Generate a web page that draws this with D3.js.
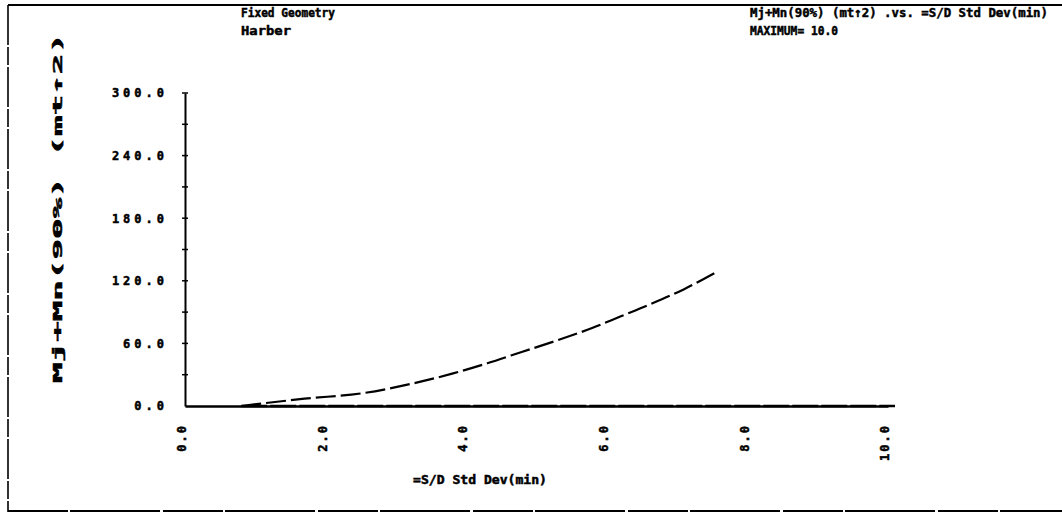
<!DOCTYPE html>
<html>
<head>
<meta charset="utf-8">
<script src="https://cdn.jsdelivr.net/npm/d3@7"></script>
<style>
  body { margin: 0; background: #fff; }
  text { font-family: "DejaVu Sans Mono", monospace; font-weight: bold; fill: #000; stroke: #000; stroke-width: 0.5; }
</style>
</head>
<body>
<div id="chart"></div>
<script>
// values
var stdDev = [0.8, 1.7, 2.55, 3.2, 3.8, 4.3, 4.8, 5.3, 5.8, 6.2, 6.6, 7.1, 7.55]
var mjMn   = [0, 7, 12.5, 21, 31, 41, 52, 63, 75, 86, 97, 112, 128]
var zeroX  = [0.8, 10.1]
var yTicks = [0, 60, 120, 180, 240, 300]
var xTicks = [0, 2, 4, 6, 8, 10]

var svg = d3.select("#chart").append("svg")
  .attr("width", 1062)
  .attr("height", 527)

// frame of the plot page
svg.append("line").attr("x1", 8).attr("x2", 1062).attr("y1", 5).attr("y2", 5)
  .attr("stroke", "#000").attr("stroke-width", 2.2)
svg.append("line").attr("x1", 8).attr("x2", 8).attr("y1", 5).attr("y2", 512)
  .attr("stroke", "#000").attr("stroke-width", 1.6).attr("stroke-dasharray", "40 2 18 2")
svg.append("line").attr("x1", 8).attr("x2", 1062).attr("y1", 511).attr("y2", 511)
  .attr("stroke", "#000").attr("stroke-width", 2).attr("stroke-dasharray", "60 2 90 3")

var x = d3.scaleLinear().domain([0, 10]).range([185, 888])
var y = d3.scaleLinear().domain([0, 300]).range([406, 93])

// header texts
function label(txt, px, py, len) {
  svg.append("text").attr("x", px).attr("y", py)
    .attr("font-size", 13)
    .attr("textLength", len).attr("lengthAdjust", "spacingAndGlyphs")
    .text(txt)
}
label("Fixed Geometry", 241, 17, 94)
label("Harber", 241, 35, 50)
label("Mj+Mn(90%) (mt\u21912) .vs. =S/D Std Dev(min)", 750, 17, 298)
label("MAXIMUM=  10.0", 750, 35, 88)

// y axis
var yAxis = svg.append("g")
  .attr("transform", "translate(185,0)")
  .call(d3.axisLeft(y).tickValues(yTicks).tickSize(0).tickPadding(17)
    .tickFormat(function(d){ return d3.format(".1f")(d) }))
yAxis.select(".domain").attr("stroke-width", 2)
yAxis.selectAll("text")
  .attr("font-size", 12)
  .attr("font-family", "DejaVu Sans Mono")
  .attr("font-weight", "bold")
  .attr("letter-spacing", 4)

// small crossing ticks on the y axis every 30
svg.selectAll(".ytick").data(d3.range(30, 301, 30)).enter()
  .append("line")
  .attr("x1", 182).attr("x2", 188)
  .attr("y1", function(d){ return y(d) }).attr("y2", function(d){ return y(d) })
  .attr("stroke", "#000").attr("stroke-width", 1.5)

// x axis
var xAxis = svg.append("g")
  .attr("transform", "translate(0,406)")
  .call(d3.axisBottom(x).tickValues(xTicks).tickSize(0).tickFormat(""))
xAxis.select(".domain").attr("stroke-width", 2.4)

svg.selectAll(".xlab").data(xTicks).enter()
  .append("text")
  .attr("class", "xlab")
  .attr("transform", function(d){ return "translate(" + (x(d) - 3) + ",424) rotate(-90)" })
  .attr("text-anchor", "end")
  .attr("dy", "0.35em")
  .attr("font-size", 12)
  .attr("letter-spacing", 2)
  .text(function(d){ return d3.format(".1f")(d) })

// axis titles
svg.append("text")
  .attr("transform", "translate(57,208) rotate(-90)")
  .attr("text-anchor", "middle")
  .attr("dy", "0.35em")
  .attr("font-size", 13)
  .attr("textLength", 350).attr("lengthAdjust", "spacingAndGlyphs")
  .text("Mj+Mn(90%) (mt\u21912)")

svg.append("text")
  .attr("x", 480).attr("y", 484)
  .attr("text-anchor", "middle")
  .attr("font-size", 12)
  .attr("textLength", 134).attr("lengthAdjust", "spacingAndGlyphs")
  .text("=S/D Std Dev(min)")

// zero series along the axis
svg.append("path")
  .datum(zeroX)
  .attr("fill", "none").attr("stroke", "#000").attr("stroke-width", 2.4)
  .attr("stroke-dasharray", "26 3")
  .attr("d", d3.line().x(function(d){ return x(d) }).y(y(0)))

// the curve
var pts = stdDev.map(function(d, i){ return [d, mjMn[i]] })
svg.append("path")
  .datum(pts)
  .attr("fill", "none").attr("stroke", "#000").attr("stroke-width", 2.2)
  .attr("stroke-dasharray", "20 5")
  .attr("d", d3.line().curve(d3.curveMonotoneX)
    .x(function(d){ return x(d[0]) })
    .y(function(d){ return y(d[1]) }))
</script>
</body>
</html>
